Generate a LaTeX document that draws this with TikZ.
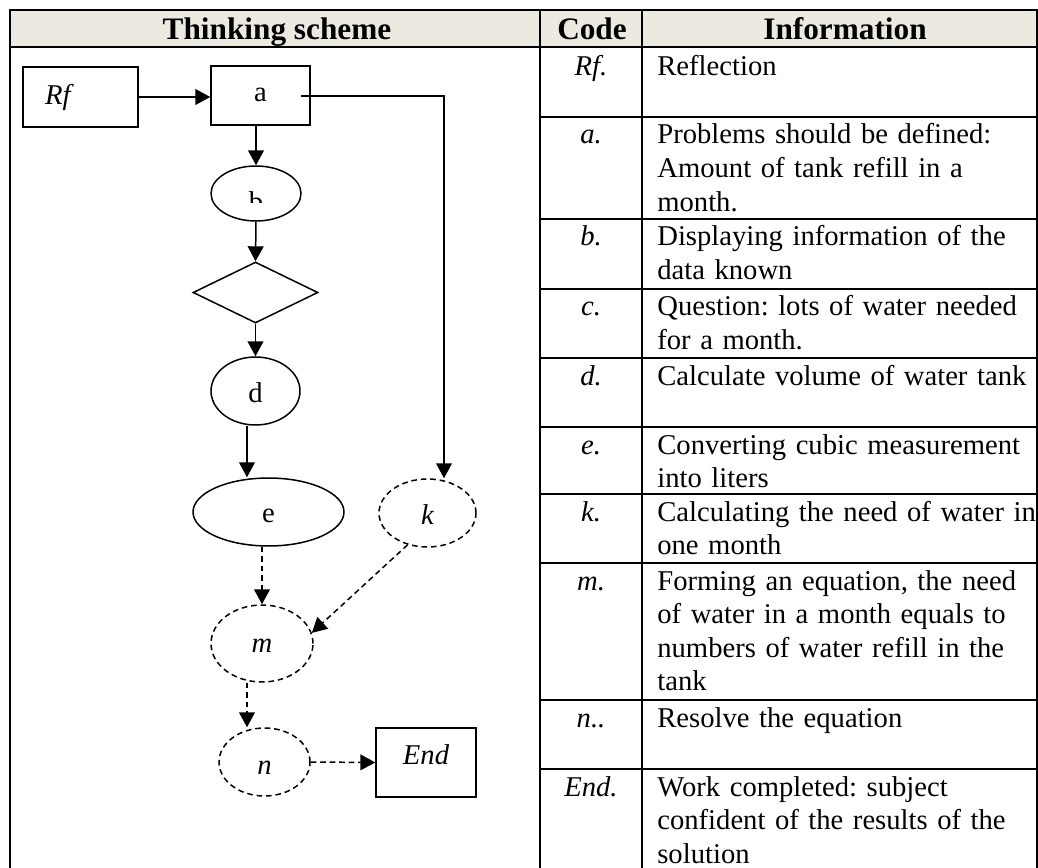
\documentclass[tikz,border=0pt]{standalone}
\usepackage{fontspec}
\setmainfont{Liberation Serif}
\usepackage{tikz}
\usetikzlibrary{arrows.meta}
\usetikzlibrary{positioning}
\usetikzlibrary{calc}
\usetikzlibrary{shapes.geometric}
\definecolor{headfill}{RGB}{236,234,224}
\tikzset{basic shape/.style={draw,line width=0.85pt,inner sep=0pt}}
\tikzset{box node/.style={basic shape,rectangle}}
\tikzset{oval node/.style={basic shape,ellipse}}
\tikzset{flow edge/.style={draw,
                           line width=0.85pt,
                           -{Triangle[length=8.5pt,width=9pt]}}}
\tikzset{dash edge/.style={flow edge,dash pattern=on 3.2pt off 2.2pt}}
\tikzset{drop/.style={text height=#1,text depth=0pt}}
\newcommand{\bodysize}{\fontsize{16.3}{19.1}\selectfont\frenchspacing}
\newcommand{\headsize}{\fontsize{17.8}{20}\selectfont\bfseries}

\begin{document}
\begin{tikzpicture}
    [
      x=0.02cm, y=-0.02cm,
      font=\bodysize,
      table line/.style={line width=1.1pt},
      head text/.style={anchor=base,inner sep=0pt,font=\headsize},
      code text/.style={anchor=base,inner sep=0pt,font=\bodysize\itshape},
      info text/.style={anchor=base west,inner sep=0pt,text width=8cm,align=left},
      dashed oval/.style={oval node,dash pattern=on 3.2pt off 2.2pt},
    ]
    \useasboundingbox (0,0) rectangle (1038,868);

    % table
    \fill [headfill] (10,10) rectangle (1037,47);
    \draw [table line] (10,10) rectangle (1037,872);
    \draw [table line] (10,47) -- (1037,47);
    \draw [table line] (540,10) -- (540,872);
    \draw [table line] (642,10) -- (642,872);
    \foreach \y in {117,219,289,358,427,494,563,700,769}
      \draw [table line] (540,\y) -- (1037,\y);

    \node [head text] (head1) at (277,40) {Thinking scheme};
    \node [head text] (head2) at (592,40) {Code};
    \node [head text] (head3) at (845,40) {Information};

    \foreach \rowtop/\rowcode/\rowinfo [count=\r] in
    {
      49/Rf./Reflection,
      117/a./{Problems should be defined:\\Amount of tank refill in a\\month.},
      219/b./{Displaying information of the\\data known},
      289/c./{Question: lots of water needed\\for a month.},
      358/d./{Calculate volume of water tank},
      427/e./{Converting cubic measurement\\into liters},
      494/k./{Calculating the need of water in\\one month},
      563/m./{Forming an equation, the need\\of water in a month equals to\\numbers of water refill in the\\tank},
      700/n../{Resolve the equation},
      769/End./{Work completed: subject\\confident of the results of the\\solution}
    }
    {
    \node [code text] (code\r) at (591,\rowtop+27) {\rowcode};
    \node [info text] (info\r) at (657,\rowtop+27) {\rowinfo};
    }

    % vertices
    \node [box node,minimum width=2.3cm,minimum height=1.2cm,text width=1.42cm,
           inner xsep=0.44cm,align=left,drop=9pt] (Rf) at (80.5,97) {\itshape Rf};
    \node [box node,minimum width=1.98cm,minimum height=1.18cm,drop=7.4pt] (a) at (260.5,95.5) {a};
    \node [oval node,minimum width=1.8cm,minimum height=1.1cm] (b) at (256,193.5) {};
    \node [basic shape,diamond,minimum width=2.5cm,minimum height=1.22cm] (c) at (255.5,292.5) {};
    \node [oval node,minimum width=1.78cm,minimum height=1.36cm,drop=13.6pt] (d) at (255.5,391) {d};
    \node [oval node,minimum width=3.02cm,minimum height=1.36cm,drop=12.5pt] (e) at (268.5,512) {e};
    \node [dashed oval,minimum width=1.94cm,minimum height=1.36cm,drop=13.6pt] (k) at (427.5,513) {\itshape k};
    \node [dashed oval,minimum width=2.04cm,minimum height=1.54cm,drop=10.8pt] (m) at (262,643.5) {\itshape m};
    \node [dashed oval,minimum width=1.82cm,minimum height=1.36cm,drop=14.7pt] (n) at (264.5,762) {\itshape n};
    \node [box node,minimum width=2cm,minimum height=1.38cm,text height=6pt,text depth=4pt] (End) at (426,762.5) {\itshape End};

    \begin{scope}
      \clip (200,150) rectangle (320,203);
      \node [anchor=base,inner sep=0pt] (blabel) at (256,212) {b};
    \end{scope}

    % edges
    \coordinate (aout) at (301,96);
    \coordinate (aturn) at (444,96);
    \coordinate (de) at (247,0);
    \draw [flow edge] (Rf.east) -- (Rf.east -| a.west);
    \draw [flow edge] (aout) -- (aturn) -- (aturn |- k.north);
    \draw [flow edge] (a.south -| b.north) -- (b.north);
    \draw [flow edge] (b.south) -- (c.north);
    \draw [flow edge] (c.south) -- (d.north);
    \draw [flow edge] (de |- d.south) -- (de |- e.north);

    % dashed edges
    \draw [dash edge] (m.north |- e.south) -- (m.north);
    \draw [dash edge] (k.238) -- (m.12);
    \draw [dash edge] (de |- m.south) -- (de |- n.north);
    \draw [dash edge] (n.east) -- (End.west);

  \end{tikzpicture}
\end{document}
